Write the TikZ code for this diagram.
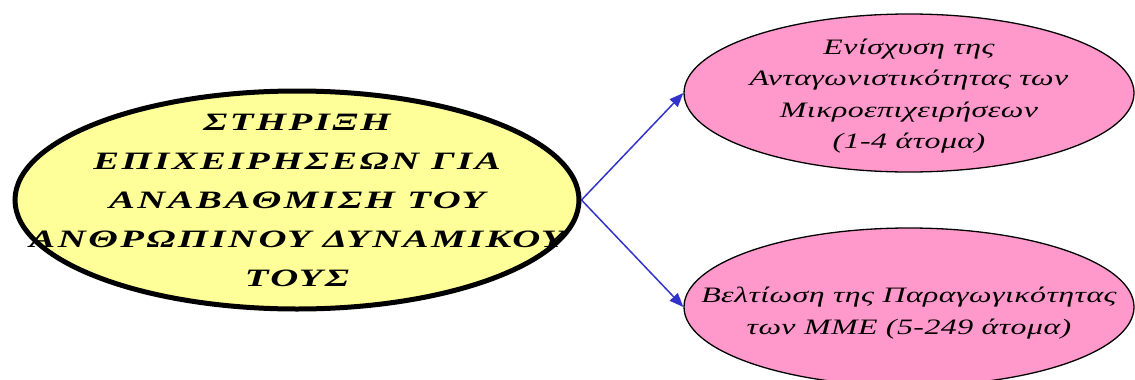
\documentclass[tikz,border=0pt]{standalone}
\usepackage{fontspec}
\setmainfont{Liberation Serif}
\newfontfamily\titlefont[LetterSpace=10,FakeStretch=1.55]{Liberation Serif}
\newfontfamily\subfont[LetterSpace=2,FakeStretch=1.45]{Liberation Serif}
\usetikzlibrary{shapes.geometric,arrows.meta}
\definecolor{mainyellow}{HTML}{FFFF99}
\definecolor{subpink}{HTML}{FF99CC}
\definecolor{linkblue}{HTML}{3333CC}

\begin{document}
\begin{tikzpicture}[x=1pt,y=-1pt,
    mnode/.style={draw,ellipse,line width=5pt,fill=mainyellow,inner sep=0pt,
        minimum width=564pt,minimum height=218pt},
    mtext/.style={align=center,inner sep=0pt,
        font=\titlefont\bfseries\itshape\fontsize{25}{39}\selectfont},
    snode/.style={draw,ellipse,line width=1.3pt,fill=subpink,inner sep=0pt,
        minimum width=450pt,minimum height=158pt},
    stext/.style={align=center,inner sep=0pt,
        font=\subfont\itshape\fontsize{22}{31.5}\selectfont},
    link/.style={linkblue,line width=1.5pt,-{Triangle[length=14pt,width=11pt]}}]
    \useasboundingbox (0,0) rectangle (1135,380);

    \node[mnode] (m) at (297,200) {};
    \node[mtext] (mt) at (297,200) {ΣΤΗΡΙΞΗ\\ ΕΠΙΧΕΙΡΗΣΕΩΝ ΓΙΑ\\ ΑΝΑΒΑΘΜΙΣΗ ΤΟΥ\\ ΑΝΘΡΩΠΙΝΟΥ ΔΥΝΑΜΙΚΟΥ\\ ΤΟΥΣ};
    \node[snode] (a) at (909,93) {};
    \node[stext] (at) at (909,96) {Ενίσχυση της\\ Ανταγωνιστικότητας των\\ Μικροεπιχειρήσεων\\ (1-4 άτομα)};
    \node[snode] (b) at (909,307) {};
    \node[stext] (bt) at (909,313) {Βελτίωση της Παραγωγικότητας\\ των ΜΜΕ (5-249 άτομα)};

    \draw[link] (m.east) -- (a.west);
    \draw[link] (m.east) -- (b.west);
\end{tikzpicture}
\end{document}
